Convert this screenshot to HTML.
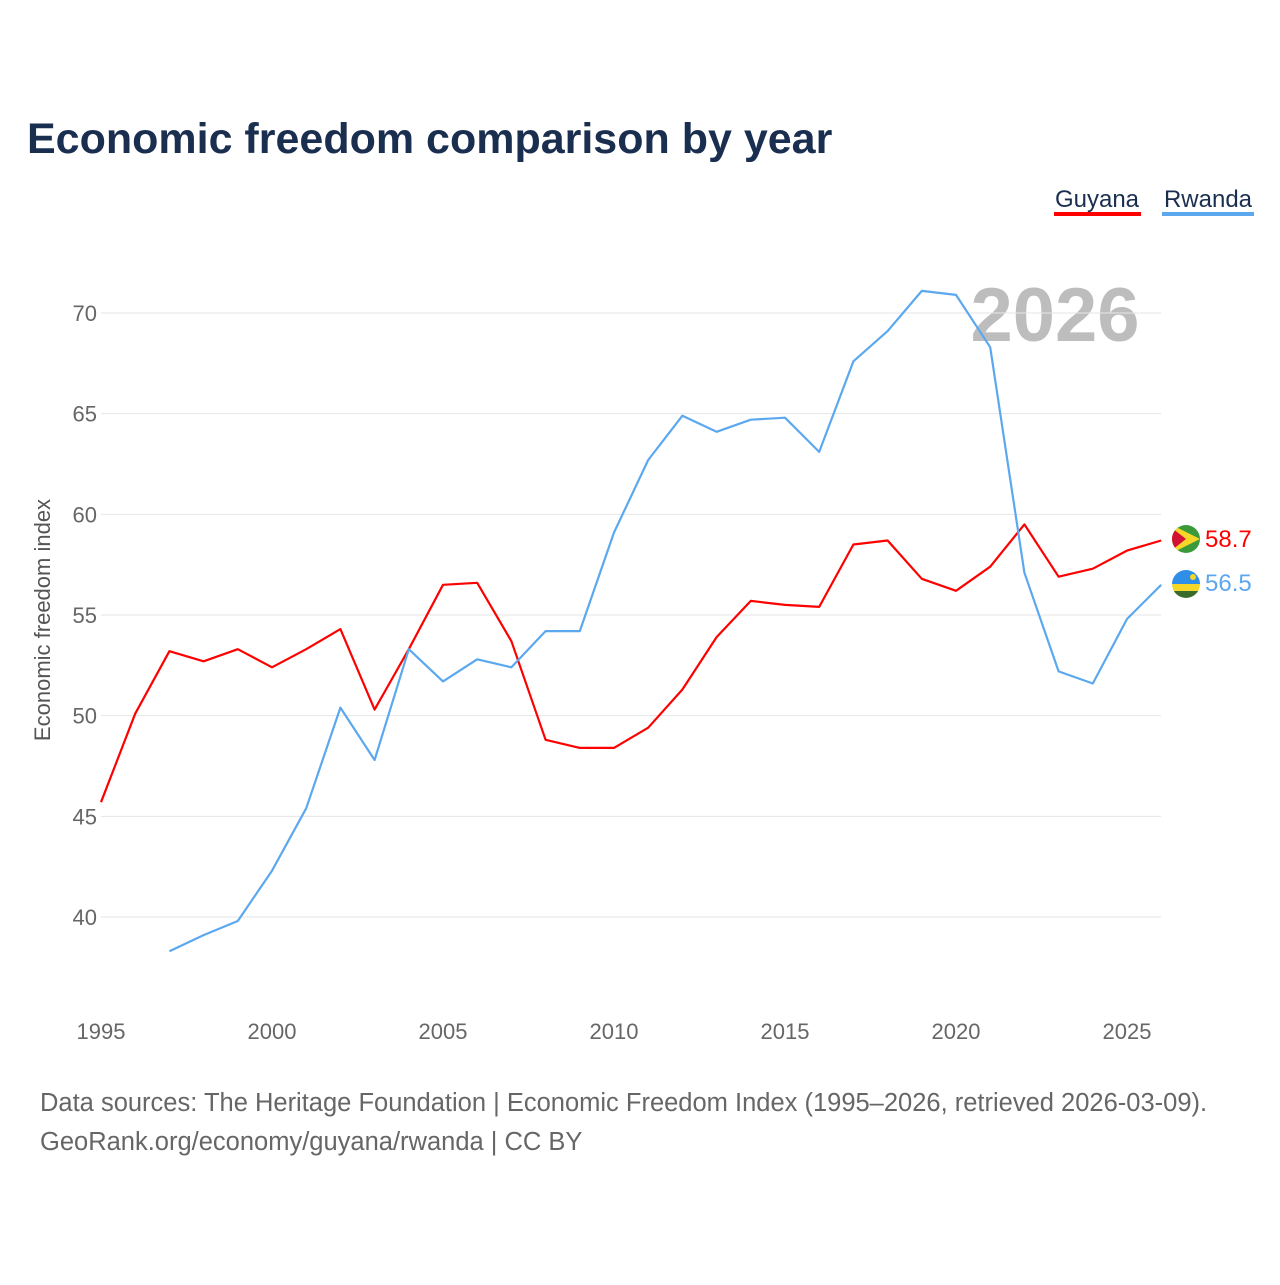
<!DOCTYPE html>
<html><head><meta charset="utf-8"><style>
body{margin:0;background:#fff;font-family:"Liberation Sans",sans-serif}
</style></head><body>
<svg id="chart" width="1280" height="1280" viewBox="0 0 1280 1280" font-family="Liberation Sans, sans-serif">
<text x="27" y="153" font-size="43" font-weight="bold" fill="#1a2e4f">Economic freedom comparison by year</text>
<g>
<text x="1097" y="207" font-size="24" fill="#1a2e4f" text-anchor="middle">Guyana</text>
<rect x="1054" y="212" width="87" height="4" fill="#ff0000"/>
<text x="1208" y="207" font-size="24" fill="#1a2e4f" text-anchor="middle">Rwanda</text>
<rect x="1162" y="212" width="92" height="4" fill="#5ca8ef"/>
</g>
<text x="1055" y="341" font-size="76" font-weight="bold" fill="#bdbdbd" text-anchor="middle">2026</text>
<g id="grid"></g><g id="xt"></g><g id="yt"></g><g id="lines"></g>
<text transform="translate(50,620) rotate(-90)" font-size="22" fill="#555" text-anchor="middle">Economic freedom index</text>
<g>
<clipPath id="gc"><circle cx="1186" cy="539" r="14"/></clipPath>
<g clip-path="url(#gc)"><rect x="1172" y="525" width="28" height="28" fill="#3a9a3a"/><polygon points="1172,525 1200,539 1172,553" fill="#f6d629"/><polygon points="1172,528 1186,539 1172,550" fill="#d21034"/></g>
</g>
<g>
<clipPath id="rc"><circle cx="1186" cy="584" r="14"/></clipPath>
<g clip-path="url(#rc)"><rect x="1172" y="570" width="28" height="14" fill="#2e8ee8"/><rect x="1172" y="584" width="28" height="7" fill="#f6d629"/><rect x="1172" y="591" width="28" height="7" fill="#3a6b2a"/><circle cx="1193" cy="577" r="3" fill="#f6d629"/></g>
</g>
<text x="1205" y="547" font-size="24" fill="#ff0000">58.7</text>
<text x="1205" y="591" font-size="24" fill="#5ca8ef">56.5</text>
<text x="40" y="1111" font-size="25.5" fill="#666">Data sources: The Heritage Foundation | Economic Freedom Index (1995–2026, retrieved 2026-03-09).</text>
<text x="40" y="1150" font-size="25.5" fill="#666">GeoRank.org/economy/guyana/rwanda | CC BY</text>
</svg>
<script>
const years=[1995,1996,1997,1998,1999,2000,2001,2002,2003,2004,2005,2006,2007,2008,2009,2010,2011,2012,2013,2014,2015,2016,2017,2018,2019,2020,2021,2022,2023,2024,2025,2026];
const guyana=[45.7,50.1,53.2,52.7,53.3,52.4,53.3,54.3,50.3,53.3,56.5,56.6,53.7,48.8,48.4,48.4,49.4,51.3,53.9,55.7,55.5,55.4,58.5,58.7,56.8,56.2,57.4,59.5,56.9,57.3,58.2,58.7];
const rwanda=[null,null,38.3,39.1,39.8,42.3,45.4,50.4,47.8,53.3,51.7,52.8,52.4,54.2,54.2,59.1,62.7,64.9,64.1,64.7,64.8,63.1,67.6,69.1,71.1,70.9,68.3,57.1,52.2,51.6,54.8,56.5];
const yTicks=[40,45,50,55,60,65,70];
const xTicks=[1995,2000,2005,2010,2015,2020,2025];
const X=v=>101+(v-1995)*(1127-101)/30;
const Y=v=>917-(v-40)*(917-313)/30;
const NS="http://www.w3.org/2000/svg";
function mk(tag,parent,attrs){const e=document.createElementNS(NS,tag);for(const k in attrs)e.setAttribute(k,attrs[k]);document.getElementById(parent).appendChild(e);return e;}
yTicks.forEach(t=>{
 const l=mk('line','grid',{x1:101,x2:1161,y1:Y(t),y2:Y(t),stroke:'#e6e6e6','stroke-width':1});
 
 
 const tx=mk('text','yt',{x:97,y:Y(t)+8,'font-size':22,fill:'#666','text-anchor':'end'});tx.textContent=t;
 
 
});
xTicks.forEach(t=>{
 const tx=mk('text','xt',{x:X(t),y:1039,'font-size':22,fill:'#666','text-anchor':'middle'});tx.textContent=t;
 
 
});
function line(vals,color,name){
 let d='';vals.forEach((v,i)=>{if(v==null)return;d+=(d?'L':'M')+X(years[i]).toFixed(1)+','+Y(v).toFixed(1);});
 const p=mk('path','lines',{d:d,fill:'none',stroke:color,'stroke-width':2.2,'stroke-linejoin':'round'});
 
 
}
line(guyana,'#ff0000','line-guyana');
line(rwanda,'#5ca8ef','line-rwanda');
</script>
</body></html>
